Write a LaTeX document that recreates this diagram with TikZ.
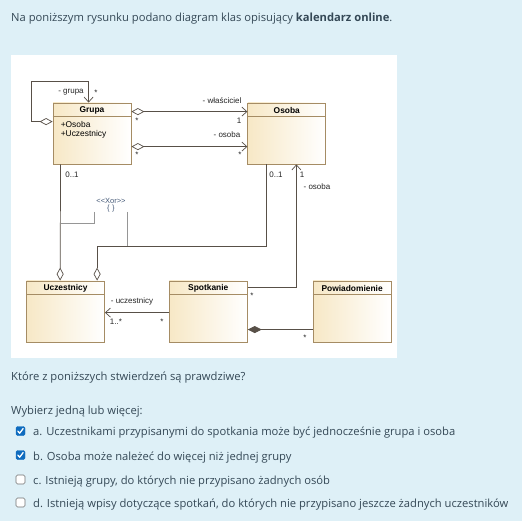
\documentclass[tikz,border=0pt]{standalone}
\usepackage{fontspec}
\setmainfont{Open Sans}
\newfontfamily\umlfont{Liberation Sans}
\usepackage{xcolor}
\usetikzlibrary{arrows.meta,positioning,calc}
\definecolor{pagebg}{RGB}{222,240,247}
\definecolor{qtext}{RGB}{52,72,86}
\definecolor{clsfill}{RGB}{247,232,198}
\definecolor{clsborder}{RGB}{165,140,100}
\definecolor{assocgray}{RGB}{88,80,72}
\definecolor{constrgray}{RGB}{150,150,150}
\definecolor{xorblue}{RGB}{70,90,120}
\definecolor{chkblue}{RGB}{15,108,191}

\begin{document}
\begin{tikzpicture}[x=1pt, y=-1pt,
    cls/.style={rectangle, draw=clsborder, line width=0.8pt, left color=clsfill, right color=white, minimum width=78pt, minimum height=61pt, inner sep=0pt},
    clsname/.style={font=\umlfont\bfseries\fontsize{8.4}{10}\selectfont, inner sep=0pt},
    clsattr/.style={font=\umlfont\fontsize{8.4}{10}\selectfont, inner sep=0pt, align=left, anchor=north west},
    clsline/.style={draw=clsborder, line width=0.6pt},
    lbl/.style={font=\umlfont\fontsize{8}{9}\selectfont, inner sep=0pt, text=black!85},
    assoc/.style={draw=assocgray, line width=0.7pt},
    odia/.tip={Diamond[open, length=13pt, width=7pt, fill=white]},
    fdia/.tip={Diamond[length=14pt, width=7pt]},
    barb/.tip={Straight Barb[length=5pt, width=9pt]},
    constr/.style={draw=constrgray, line width=0.6pt},
    qtxt/.style={font=\fontsize{11.2}{13}\selectfont, text=qtext, inner sep=0pt, anchor=base west},
    chkbox/.style={rectangle, rounded corners=1.5pt, minimum size=9pt, inner sep=0pt},
    chkon/.style={chkbox, fill=chkblue, draw=chkblue},
    chkoff/.style={chkbox, fill=white, draw=black!55, line width=0.6pt}
]

% Page and panel
\fill[pagebg] (0,0) rectangle (522,521);
\fill[white] (11,55) rectangle (397,358);

% Intro text
\node[qtxt] (intro) at (11,22) {Na poniższym rysunku podano diagram klas opisujący \textbf{kalendarz online}.};

% Classes
\node[cls] (grupa) at (92,133.5) {};
\node[cls, right=116pt of grupa] (osoba) {};
\node[cls] (uczestnicy) at (65.5,311.5) {};
\node[cls, right=64pt of uczestnicy] (spotkanie) {};
\node[cls, right=65pt of spotkanie] (powiadomienie) {};

\foreach \c/\t in {grupa/Grupa, osoba/Osoba, uczestnicy/Uczestnicy, spotkanie/Spotkanie, powiadomienie/Powiadomienie} {
  \node[clsname] at ($(\c.north)+(0,7.5)$) {\t};
  \draw[clsline] ($(\c.north west)+(0,14)$) -- ($(\c.north east)+(0,14)$);
}
\node[clsattr] at ($(grupa.north west)+(8,18.5)$) {+Osoba\\[-1pt]+Uczestnicy};

% Associations
\draw[assoc, {odia}-{barb}] ($(grupa.north west)+(0,19)$) -- ++(-21,0) -- ++(0,-40) -- ++(57,0) -- ($(grupa.north west)+(36,0)$);
\draw[assoc, {odia}-{barb}] ($(grupa.north east)+(0,9)$) -- ($(osoba.north west)+(0,9)$);
\draw[assoc, {odia}-{barb}] ($(grupa.north east)+(0,44)$) -- ($(osoba.north west)+(0,44)$);
\draw[assoc, -{odia}] ($(grupa.south west)+(8,0)$) -- ($(uczestnicy.north west)+(34,0)$);
\draw[assoc, -{odia}] ($(osoba.south west)+(19,0)$) -- ++(0,82) -| ($(uczestnicy.north west)+(71,0)$);
\draw[assoc, -{barb}] ($(spotkanie.north east)+(0,7)$) -| ($(osoba.south west)+(49,0)$);
\draw[assoc, -{barb}] ($(spotkanie.north west)+(0,32)$) -- ($(uczestnicy.north east)+(0,32)$);
\draw[assoc, {fdia}-] ($(spotkanie.north east)+(0,49)$) -- ($(powiadomienie.north west)+(0,49)$);

% Xor constraint
\node[font=\umlfont\fontsize{7.5}{6.5}\selectfont, text=xorblue, inner sep=0pt, align=center, anchor=south] (xor) at (111,212) {<{}<Xor>{}>\\\{\,\,\}};
\draw[constr] ($(xor.south)+(-17,0)$) |- ($(grupa.south west)+(8,59)$);
\draw[constr] ($(xor.south)+(16,0)$) -- ++(0,34);

% Role names and multiplicities
\node[lbl] (l1) at (71,92) {- grupa};
\node[lbl] (l2) at (96,93) {*};
\node[lbl] (l3) at (222,101) {- właściciel};
\node[lbl] (l4) at (239,121) {1};
\node[lbl] (l5) at (137,121) {*};
\node[lbl] (l6) at (227,135) {- osoba};
\node[lbl] (l7) at (240,155) {*};
\node[lbl] (l8) at (137,155) {*};
\node[lbl] (l9) at (72,175) {0..1};
\node[lbl] (l10) at (276,175) {0..1};
\node[lbl] (l11) at (302,175) {1};
\node[lbl] (l12) at (317,187) {- osoba};
\node[lbl] (l13) at (252,296) {*};
\node[lbl] (l14) at (132,301) {- uczestnicy};
\node[lbl] (l15) at (116,322) {1..*};
\node[lbl] (l16) at (162,322) {*};
\node[lbl] (l17) at (305,338) {*};

% Question
\node[qtxt] (q) at (11,380) {Które z poniższych stwierdzeń są prawdziwe?};
\node[qtxt] (w) at (11,414) {Wybierz jedną lub więcej:};

\node[chkon] (cba) at (20.5,431) {};
\node[chkon] (cbb) at (20.5,455) {};
\node[chkoff] (cbc) at (20.5,479.5) {};
\node[chkoff] (cbd) at (20.5,502.5) {};
\foreach \b in {cba, cbb}
  \draw[white, line width=1.3pt, line cap=round, line join=round] ($(\b.center)+(-2.6,0.2)$) -- ++(1.8,2) -- ++(3.4,-4.6);

\node[qtxt] (oa) at (33,435) {a. Uczestnikami przypisanymi do spotkania może być jednocześnie grupa i osoba};
\node[qtxt] (ob) at (33,460) {b. Osoba może należeć do więcej niż jednej grupy};
\node[qtxt] (oc) at (33,484) {c. Istnieją grupy, do których nie przypisano żadnych osób};
\node[qtxt] (od) at (33,507.5) {d. Istnieją wpisy dotyczące spotkań, do których nie przypisano jeszcze żadnych uczestników};

\end{tikzpicture}
\end{document}
